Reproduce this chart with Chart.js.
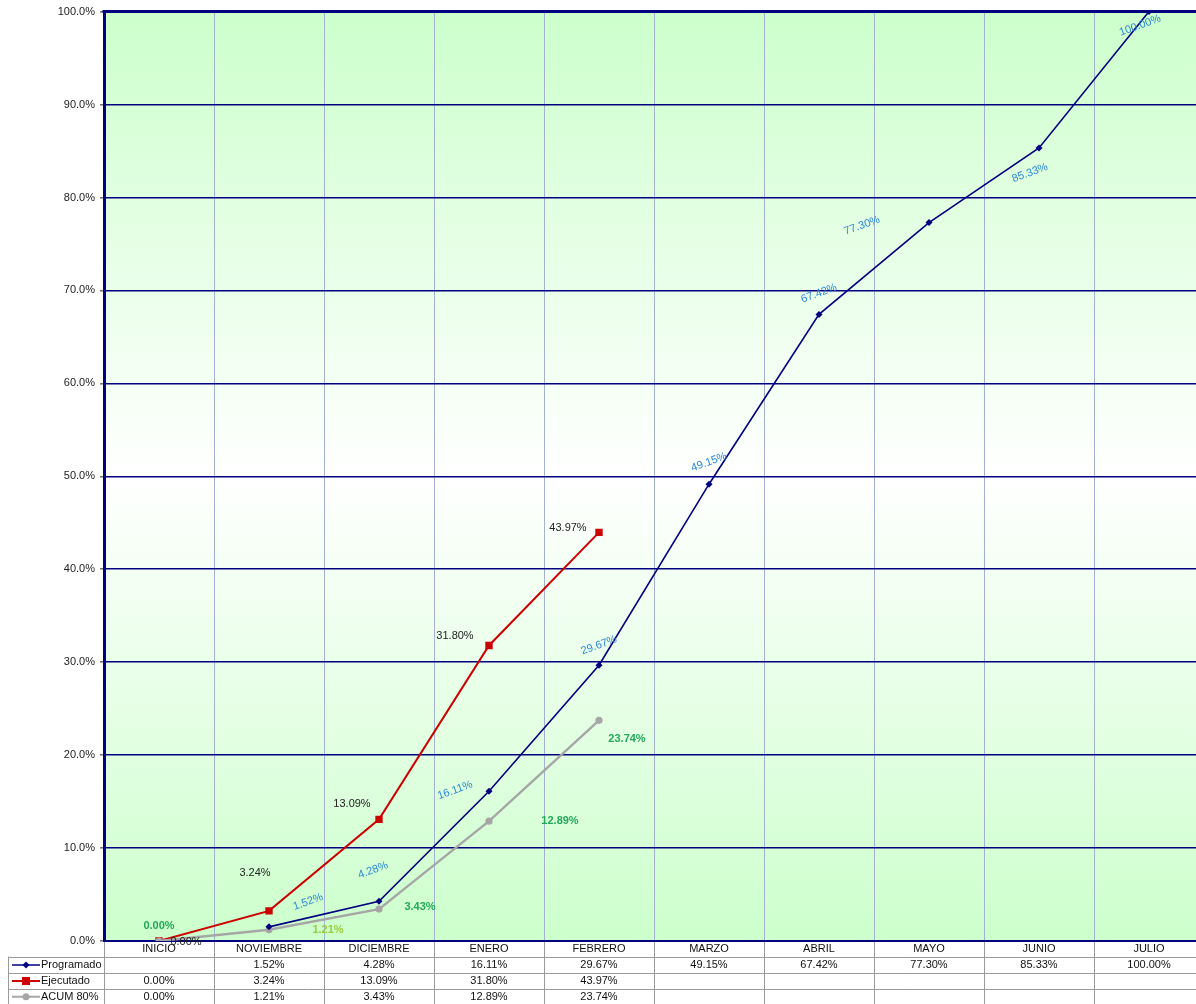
<!DOCTYPE html>
<html><head><meta charset="utf-8">
<script src="https://cdn.jsdelivr.net/npm/chart.js@4"></script>
<style>html,body{margin:0;padding:0;overflow:hidden;background:#fff;width:1196px;height:1004px}canvas{display:block;position:absolute;left:0;top:0}</style>
</head><body>
<canvas id="c" width="1210" height="1004"></canvas>
<script>
// ---- data ----
const categories = ['INICIO','NOVIEMBRE','DICIEMBRE','ENERO','FEBRERO','MARZO','ABRIL','MAYO','JUNIO','JULIO'];
const programado = [null, 1.52, 4.28, 16.11, 29.67, 49.15, 67.42, 77.30, 85.33, 100.00];
const ejecutado  = [0.00, 3.24, 13.09, 31.80, 43.97, null, null, null, null, null];
const acum80     = [0.00, 1.21, 3.43, 12.89, 23.74, null, null, null, null, null];
const seriesNames = ['Programado', 'Ejecutado', 'ACUM 80%'];
const yMin = 0, yMax = 100, yStep = 10;

// ---- label placement (style only) ----
const progLabelOffsets = [null,[39,-25],[-6,-31],[-34,-1],[0,-20],[0,-22],[0,-21],[-67,3],[-9,25],[-9,14]];
const ejecLabelOffsets = [[27,1],[-14,-38],[-27,-15],[-34,-9],[-31,-4]];
const acumLabelOffsets = [[0,-15],[59,0],[41,-2],[71,0],[28,19]];
const acumLabelColors  = ['#22a85a','#9acd3c','#22a85a','#22a85a','#22a85a'];

const FONT = '"Liberation Sans", Arial, sans-serif';
const NAVY = '#000080', RED = '#cc0000', GRAY = '#a6a6a6';

const bgPlugin = {
  id: 'bg',
  beforeDraw(chart) {
    const {ctx, chartArea: a} = chart;
    const g = ctx.createLinearGradient(0, a.top, 0, a.bottom);
    g.addColorStop(0, '#ccffcc');
    g.addColorStop(0.5, '#ffffff');
    g.addColorStop(1, '#ccffcc');
    ctx.save();
    ctx.fillStyle = g;
    ctx.fillRect(a.left, a.top, a.right - a.left, a.bottom - a.top);
    ctx.restore();
  }
};

const labelPlugin = {
  id: 'labels',
  afterDatasetsDraw(chart) {
    const ctx = chart.ctx;
    ctx.save();
    ctx.textAlign = 'center';
    ctx.textBaseline = 'middle';
    const m0 = chart.getDatasetMeta(0);
    m0.data.forEach((pt, i) => {
      const v = programado[i]; const off = progLabelOffsets[i];
      if (v == null || !off) return;
      ctx.save();
      ctx.translate(pt.x + off[0], pt.y + off[1]);
      ctx.rotate(-20 * Math.PI / 180);
      ctx.font = '11px ' + FONT;
      ctx.fillStyle = '#2a86d6';
      ctx.fillText(v.toFixed(2) + '%', 0, 0);
      ctx.restore();
    });
    const m1 = chart.getDatasetMeta(1);
    m1.data.forEach((pt, i) => {
      const v = ejecutado[i]; const off = ejecLabelOffsets[i];
      if (v == null || !off) return;
      ctx.font = '11px ' + FONT;
      ctx.fillStyle = '#222';
      ctx.fillText(v.toFixed(2) + '%', pt.x + off[0], pt.y + off[1]);
    });
    const m2 = chart.getDatasetMeta(2);
    m2.data.forEach((pt, i) => {
      const v = acum80[i]; const off = acumLabelOffsets[i];
      if (v == null || !off) return;
      ctx.font = 'bold 11px ' + FONT;
      ctx.fillStyle = acumLabelColors[i];
      ctx.fillText(v.toFixed(2) + '%', pt.x + off[0], pt.y + off[1]);
    });
    ctx.restore();
  }
};

const framePlugin = {
  id: 'frame',
  afterDraw(chart) {
    const {ctx, chartArea: a} = chart;
    const xs = chart.scales.x;
    ctx.save();
    ctx.strokeStyle = NAVY; ctx.lineWidth = 3;
    ctx.beginPath(); ctx.moveTo(a.left - 1.5, a.top); ctx.lineTo(a.right, a.top); ctx.stroke();
    ctx.beginPath(); ctx.moveTo(a.right, a.top); ctx.lineTo(a.right, a.bottom); ctx.stroke();

    const colW = xs.getPixelForValue(1) - xs.getPixelForValue(0);
    const rowTops = [a.bottom, a.bottom + 15.5, a.bottom + 31.5, a.bottom + 47.5, a.bottom + 63];
    const legendLeft = 8.5;
    ctx.strokeStyle = '#9a9a9a'; ctx.lineWidth = 1;
    for (let i = 0; i <= categories.length; i++) {
      const x = Math.round(xs.getPixelForValue(i) - colW / 2) + 0.5;
      ctx.beginPath(); ctx.moveTo(x, a.bottom + 1); ctx.lineTo(x, rowTops[4]); ctx.stroke();
    }
    ctx.beginPath(); ctx.moveTo(legendLeft, rowTops[1]); ctx.lineTo(legendLeft, rowTops[4]); ctx.stroke();
    for (let r = 1; r <= 4; r++) {
      const y = Math.round(rowTops[r]) + 0.5;
      ctx.beginPath(); ctx.moveTo(legendLeft, y); ctx.lineTo(a.right, y); ctx.stroke();
    }
    const rows = [programado, ejecutado, acum80];
    const colors = [NAVY, RED, GRAY];
    ctx.font = '11px ' + FONT;
    ctx.textBaseline = 'middle';
    rows.forEach((arr, r) => {
      const yc = (rowTops[r + 1] + rowTops[r + 2]) / 2 + 0.5;
      ctx.strokeStyle = colors[r]; ctx.fillStyle = colors[r];
      ctx.lineWidth = r === 0 ? 1.5 : 2;
      ctx.beginPath(); ctx.moveTo(12, yc); ctx.lineTo(40, yc); ctx.stroke();
      if (r === 0) {
        ctx.beginPath(); ctx.moveTo(26, yc - 3.5); ctx.lineTo(29.5, yc); ctx.lineTo(26, yc + 3.5); ctx.lineTo(22.5, yc); ctx.closePath(); ctx.fill();
      } else if (r === 1) {
        ctx.fillRect(22, yc - 4, 8, 8);
      } else {
        ctx.beginPath(); ctx.arc(26, yc, 3.5, 0, Math.PI * 2); ctx.fill();
      }
      ctx.fillStyle = '#111';
      ctx.textAlign = 'left';
      ctx.fillText(seriesNames[r], 41, yc);
      ctx.textAlign = 'center';
      arr.forEach((v, i) => {
        if (v == null) return;
        ctx.fillText(v.toFixed(2) + '%', xs.getPixelForValue(i), yc);
      });
    });
    ctx.restore();
  }
};

new Chart(document.getElementById('c'), {
  type: 'line',
  data: {
    labels: categories,
    datasets: [
      { label: seriesNames[0], data: programado, borderColor: NAVY, backgroundColor: NAVY, borderWidth: 1.6,
        pointStyle: 'rectRot', pointRadius: 3.5, pointBorderWidth: 0, order: 0, spanGaps: false },
      { label: seriesNames[1], data: ejecutado, borderColor: RED, backgroundColor: RED, borderWidth: 2,
        pointStyle: 'rect', pointRadius: 5.2, pointBorderWidth: 0, order: 2 },
      { label: seriesNames[2], data: acum80, borderColor: GRAY, backgroundColor: GRAY, borderWidth: 2.4,
        pointStyle: 'circle', pointRadius: 3.6, pointBorderWidth: 0, order: 1 }
    ]
  },
  options: {
    responsive: false,
    animation: false,
    devicePixelRatio: 1,
    layout: { padding: { top: 11, left: 0, right: 6, bottom: 0 } },
    plugins: { legend: { display: false }, tooltip: { enabled: false } },
    elements: { line: { tension: 0 } },
    scales: {
      x: {
        offset: true,
        grid: { offset: true, color: '#a4b0d0', lineWidth: 1, drawTicks: false },
        border: { color: NAVY, width: 2 },
        ticks: { font: { family: FONT, size: 11 }, color: '#111', padding: 1, maxRotation: 0, autoSkip: false },
        afterFit(s) { s.height = 63; }
      },
      y: {
        min: yMin, max: yMax,
        ticks: { stepSize: yStep, font: { family: FONT, size: 11 }, color: '#222', padding: 5,
                 callback: v => Number(v).toFixed(1) + '%' },
        grid: { color: NAVY, lineWidth: 1.6, tickLength: 4, tickColor: '#777' },
        border: { color: NAVY, width: 3 },
        afterFit(s) { s.width = 104; }
      }
    }
  },
  plugins: [bgPlugin, labelPlugin, framePlugin]
});
</script>
</body></html>
